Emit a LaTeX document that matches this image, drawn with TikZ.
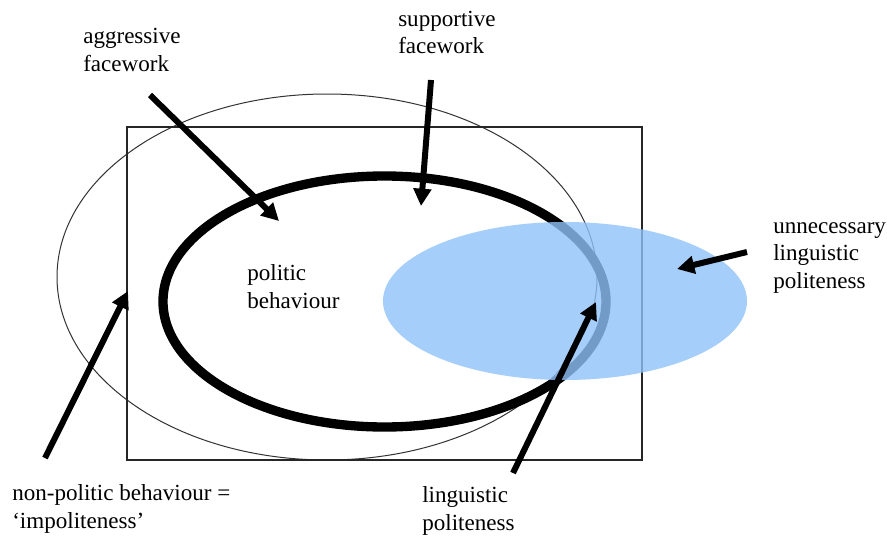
\documentclass[tikz,border=0pt]{standalone}
\usepackage{fontspec}
\setmainfont{Liberation Serif}
\usetikzlibrary{arrows.meta}
\definecolor{lightblue}{RGB}{144,194,249}
\tikzset{
  lbl/.style={anchor=base west, inner sep=0pt, align=left, font=\fontsize{17.3}{20.3}\selectfont},
  bigarrow/.style={line width=4.5pt, -{Triangle[length=13pt,width=13pt]}},
  thinline/.style={line width=0.75pt, draw=black!80},
}
\begin{document}
\begin{tikzpicture}[x=0.75pt,y=-0.75pt]
\useasboundingbox (0,0) rectangle (887,535);
\fill[white] (0,0) rectangle (887,535);
% shapes
\draw[thinline] (327,277) ellipse [x radius=270, y radius=183];
\draw[line width=0.9pt, draw=black!85] (127,127) rectangle (642,460);
\draw[line width=7pt] (384.5,301.5) ellipse [x radius=221.5, y radius=125.5];
\fill[lightblue, fill opacity=0.8] (565,301) ellipse [x radius=182, y radius=79];
% labels (anchored at the baseline of their last line)
\node[lbl] (agg) at (83,71) {aggressive\\facework};
\node[lbl] (sup) at (398,54) {supportive\\facework};
\node[lbl] (unn) at (773,288) {unnecessary\\linguistic\\politeness};
\node[lbl] (pol) at (247,308) {politic\\behaviour};
\node[lbl] (non) at (12,528) {non-politic behaviour =\\`impoliteness'};
\node[lbl] (lin) at (422,530) {linguistic\\politeness};
% arrow end points
\coordinate (aggS) at (150,95);  \coordinate (aggT) at (279,221);
\coordinate (supS) at (431,80);  \coordinate (supT) at (421,206);
\coordinate (unnS) at (747,252); \coordinate (unnT) at (677,269);
\coordinate (linS) at (513,473); \coordinate (linT) at (596,302);
\coordinate (nonS) at (45,458);  \coordinate (nonT) at (128,291);
\draw[bigarrow] (aggS) -- (aggT);
\draw[bigarrow] (supS) -- (supT);
\draw[bigarrow] (unnS) -- (unnT);
\draw[bigarrow] (linS) -- (linT);
\draw[bigarrow] (nonS) -- (nonT);
\end{tikzpicture}
\end{document}
